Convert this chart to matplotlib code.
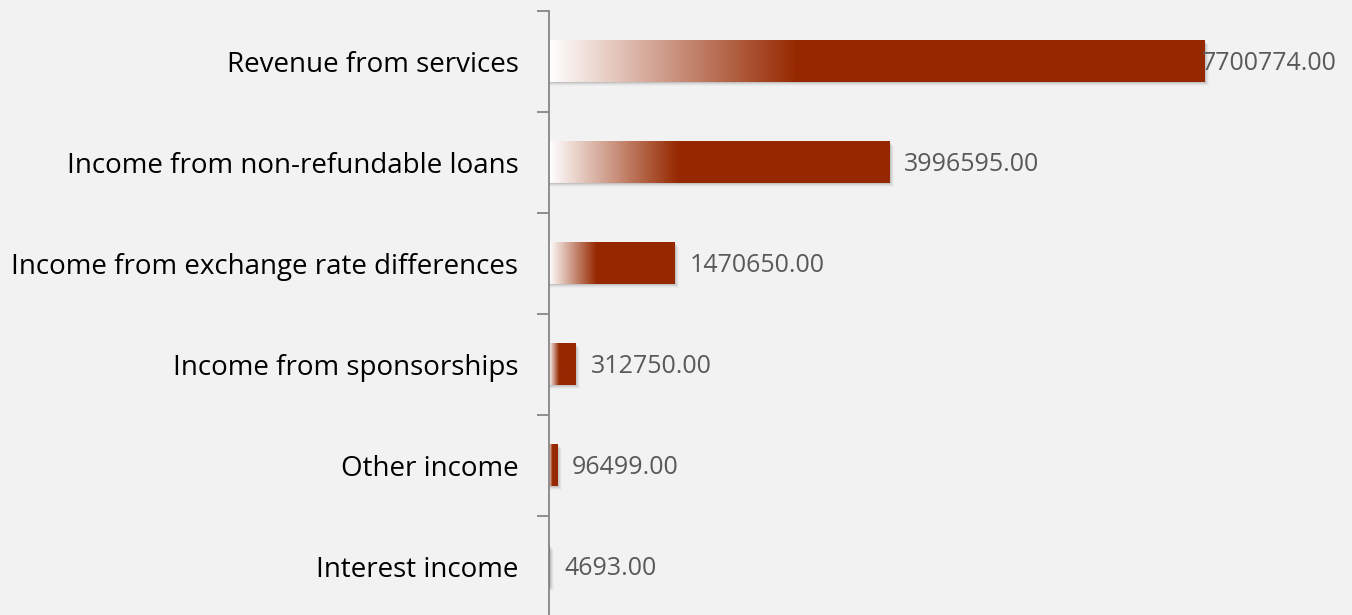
import matplotlib
matplotlib.use("Agg")
import matplotlib.pyplot as plt
import matplotlib.patches as mpatches
from matplotlib.colors import LinearSegmentedColormap
import numpy as np

plt.rcParams["font.family"] = ["Open Sans", "DejaVu Sans"]

# データ（上から順）
categories = [
    "Revenue from services",
    "Income from non-refundable loans",
    "Income from exchange rate differences",
    "Income from sponsorships",
    "Other income",
    "Interest income",
]
values = [7700774.00, 3996595.00, 1470650.00, 312750.00, 96499.00, 4693.00]

BG = "#f2f2f2"
RED = "#962800"
GRAD_FRAC = 0.38   # バーの左側 38% がグラデーション

fig = plt.figure(figsize=(13.52, 6.15), dpi=100)
fig.patch.set_facecolor(BG)
ax = fig.add_axes([549 / 1352, -2 / 615, 1 - 549 / 1352, 606 / 615])
ax.set_facecolor(BG)

n = len(categories)
y_pos = np.arange(n)
bar_h = 0.41
xmax = 9.43e6
px = xmax / 803   # 1ピクセル分のデータ幅

# 白→赤のグラデーション
grad = np.concatenate([np.linspace(0, 1, 200), np.ones(int(200 * (1 - GRAD_FRAC) / GRAD_FRAC))])
cmap = LinearSegmentedColormap.from_list("wr", ["#ffffff", RED])

for yi, v in zip(y_pos, values):
    # 影（ぼかし風に数枚重ねる）
    for k, a in enumerate([0.08, 0.06, 0.04, 0.025]):
        ax.add_patch(mpatches.Rectangle((0, yi - bar_h / 2 + 0.01 * (k + 1)), v + px * (k + 1.5), bar_h,
                                        facecolor="#000000", alpha=a, lw=0, zorder=1))
    ax.imshow(grad[np.newaxis, :], cmap=cmap, aspect="auto", interpolation="bilinear",
              extent=(0, v, yi + bar_h / 2, yi - bar_h / 2), zorder=2)

ax.set_xlim(0, xmax)
ax.set_ylim(n - 0.5, -0.5)

# 値ラベル
for yi, v in zip(y_pos, values):
    x = v + px * 15
    if x + px * 140 > xmax:
        x = v - px * 3
    ax.text(x, yi + 0.02, f"{v:.2f}", va="center", ha="left", fontsize=18,
            color="#595959", zorder=3)

ax.set_yticks(y_pos)
ax.set_yticklabels(categories, fontsize=20, color="#000000")
ax.set_yticks(np.arange(-0.5, n + 0.5, 1.0), minor=True)
ax.tick_params(axis="y", which="major", length=0, pad=22)
ax.tick_params(axis="y", which="minor", length=9, width=1.3, color="#868686", direction="out")
ax.set_xticks([])
for s in ["top", "right", "bottom"]:
    ax.spines[s].set_visible(False)
ax.spines["left"].set_color("#868686")
ax.spines["left"].set_linewidth(1.3)

fig.savefig("out.png", dpi=100, facecolor=BG)
